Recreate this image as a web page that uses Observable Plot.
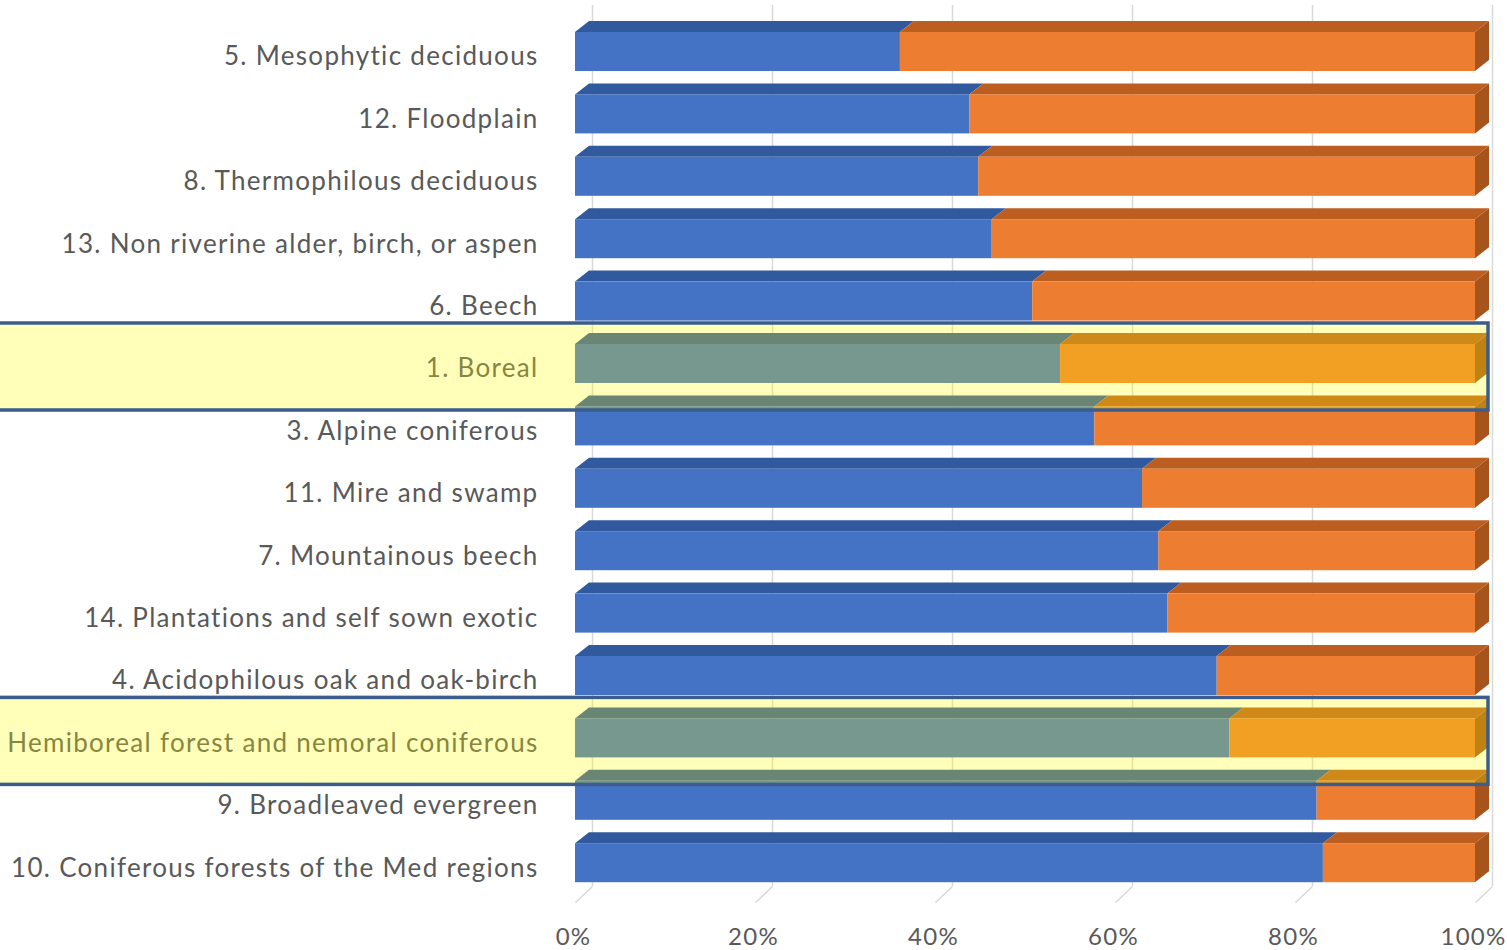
<!DOCTYPE html>
<html>
<head>
<meta charset="utf-8">
<script src="https://cdn.jsdelivr.net/npm/d3@7"></script>
<script src="https://cdn.jsdelivr.net/npm/@observablehq/plot@0.6"></script>
<style>
  html, body { margin: 0; padding: 0; background: #ffffff; overflow: hidden; }
</style>
</head>
<body>
<div id="chart"></div>
<script>
// Forest types, top to bottom
const forestTypes = [
  "5. Mesophytic deciduous",
  "12. Floodplain",
  "8. Thermophilous deciduous",
  "13. Non riverine alder, birch, or aspen",
  "6. Beech",
  "1. Boreal",
  "3. Alpine coniferous",
  "11. Mire and swamp",
  "7. Mountainous beech",
  "14. Plantations and self sown exotic",
  "4. Acidophilous oak and oak-birch",
  "2. Hemiboreal forest and nemoral coniferous",
  "9. Broadleaved evergreen",
  "10. Coniferous forests of the Med regions"
];

// Share of each forest type (%), first (blue) and second (orange) part
const firstShare  = [36.1, 43.8, 44.8, 46.3, 50.8, 53.9, 57.7, 63.0, 64.8, 65.8, 71.3, 72.7, 82.4, 83.1];
const secondShare = [63.9, 56.2, 55.2, 53.7, 49.2, 46.1, 42.3, 37.0, 35.2, 34.2, 28.7, 27.3, 17.6, 16.9];

// Rows marked with a highlight box
const highlighted = ["1. Boreal", "2. Hemiboreal forest and nemoral coniferous"];

const xTicks = [0, 20, 40, 60, 80, 100];
const xTickLabels = ["0%", "20%", "40%", "60%", "80%", "100%"];

// ---- layout ----
const W = 1507, H = 950;
const X0 = 575, X1 = 1475;          // front plane: 0% and 100%
const ROW0 = 32, PITCH = 62.4;      // first row top, row pitch (px)
const pxX = (X1 - X0) / 100;        // px per percent
const BAR_H = 39 / PITCH;           // bar front height in row units
const DEPTH_X = 14 / pxX;           // bar depth, horizontal (data units)
const DEPTH_Y = -11 / PITCH;        // bar depth, vertical (row units)
const WALL_X = 17 / pxX;            // back wall offset
const WALL_TOP = (5 - ROW0) / PITCH;
const WALL_FLOOR = (886 - ROW0) / PITCH;
const FLOOR_FRONT = (902 - ROW0) / PITCH;
const LABEL_Y = (937 - ROW0) / PITCH;

const FONT = "Lato, 'Open Sans', sans-serif";
const colors = {
  first:  {front: "#4472C4", top: "#30599E"},
  second: {front: "#ED7D31", top: "#BD5E21", side: "#A7541C"}
};

// one segment per row and series
const segments = forestTypes.flatMap((name, i) => [
  {name, i, series: "first",  x1: 0, x2: firstShare[i]},
  {name, i, series: "second", x1: firstShare[i], x2: firstShare[i] + secondShare[i]}
]);

// top faces: parallelograms receding to the back
const topFaces = segments.flatMap((s, k) => [
  {key: k, series: s.series, y: s.i + DEPTH_Y, a: s.x1 + DEPTH_X, b: s.x2 + DEPTH_X},
  {key: k, series: s.series, y: s.i,           a: s.x1,           b: s.x2}
]);

// right side faces at the end of each bar
const sideFaces = forestTypes.flatMap((name, i) => {
  const end = firstShare[i] + secondShare[i];
  return [
    {key: i, x: end,           y1: i,           y2: i + BAR_H},
    {key: i, x: end + DEPTH_X, y1: i + DEPTH_Y, y2: i + BAR_H + DEPTH_Y}
  ];
});

const rowOf = d => forestTypes.indexOf(d);

const marks = [
  // back wall gridlines and floor lines
  Plot.ruleX(xTicks, {x: d => d + WALL_X, y1: WALL_TOP, y2: WALL_FLOOR, stroke: "#D9D9D9", strokeWidth: 1.5}),
  Plot.link(xTicks, {x1: d => d + WALL_X, y1: WALL_FLOOR, x2: d => d, y2: FLOOR_FRONT, stroke: "#D9D9D9", strokeWidth: 1.5}),

  // bars: top faces, side faces, front faces
  ...["first", "second"].map(s =>
    Plot.areaX(topFaces.filter(d => d.series === s), {x1: "a", x2: "b", y: "y", z: "key", fill: colors[s].top, curve: "linear"})
  ),
  Plot.areaY(sideFaces, {x: "x", y1: "y1", y2: "y2", z: "key", fill: colors.second.side, curve: "linear"}),
  ...["first", "second"].map(s =>
    Plot.rect(segments.filter(d => d.series === s), {x1: "x1", x2: "x2", y1: d => d.i, y2: d => d.i + BAR_H, fill: colors[s].front})
  ),

  // category labels
  Plot.text(forestTypes, {
    x: 0, y: (d, i) => i + BAR_H / 2, text: d => d,
    dx: -37, dy: 5, textAnchor: "end", fontSize: 26, fill: "#595959", fontFamily: FONT
  }),

  // percentage tick labels
  Plot.text(xTicks, {
    x: d => d, y: LABEL_Y, text: (d, i) => xTickLabels[i],
    dx: -2, fontSize: 24, fill: "#595959", fontFamily: FONT
  }),

  // highlight boxes over the marked rows
  Plot.rect(highlighted, {
    x1: -(X0 + 3) / pxX, x2: (1488 - X0) / pxX,
    y1: d => rowOf(d) - 21 / PITCH, y2: d => rowOf(d) + 66 / PITCH,
    fill: "#FFFF00", fillOpacity: 0.27, stroke: "#3B5C8C", strokeWidth: 3.5
  })
];

const chart = Plot.plot({
  width: W,
  height: H,
  margin: 0,
  style: {fontFamily: FONT, background: "#ffffff", overflow: "hidden", letterSpacing: "1.3px"},
  x: {domain: [0, 100], range: [X0, X1], axis: null},
  y: {domain: [0, 14], range: [ROW0, ROW0 + 14 * PITCH], axis: null},
  marks
});

document.getElementById("chart").appendChild(chart);
</script>
</body>
</html>
